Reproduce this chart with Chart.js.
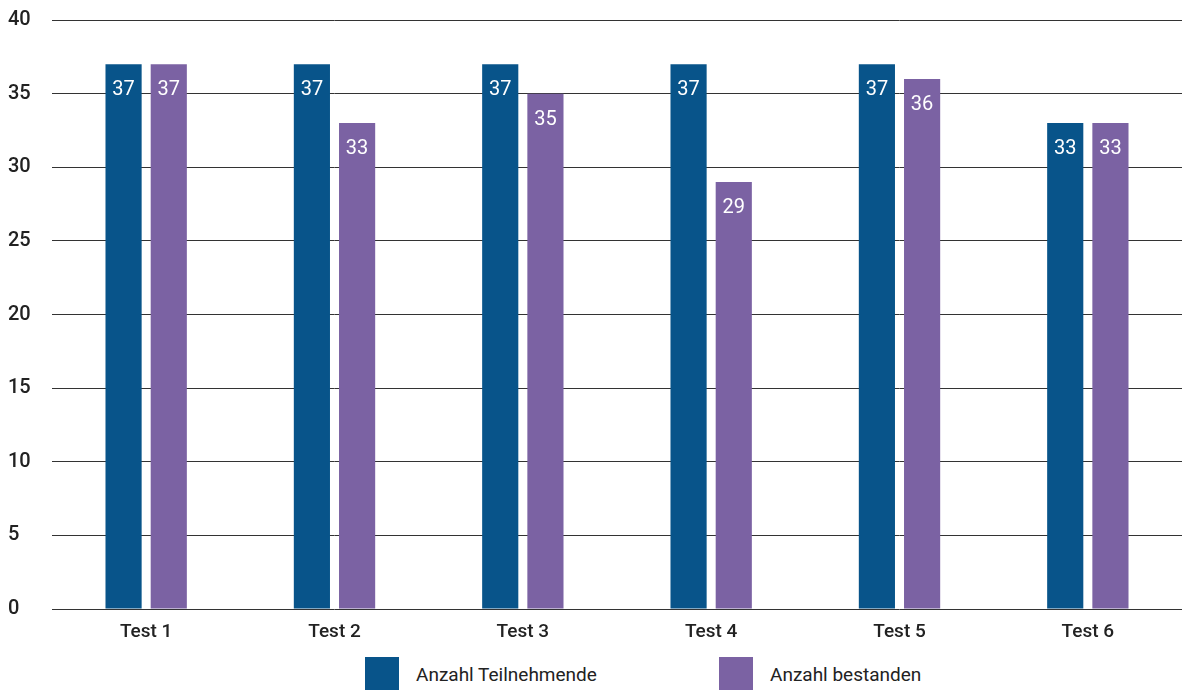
<!DOCTYPE html>
<html lang="de">
<head>
<meta charset="utf-8">
<title>Tests</title>
<script src="https://cdn.jsdelivr.net/npm/chart.js@4"></script>
<style>
    html, body { margin: 0; padding: 0; background: #fff; }
    body { width: 1182px; height: 690px; overflow: hidden; position: relative; font-family: Roboto, sans-serif; }
    #wrap { position: absolute; left: 0; top: 0; width: 1182px; height: 650px; }
    .legende { position: absolute; top: 657px; display: flex; align-items: center; font-size: 19px; color: #222; }
    .legende span.box { width: 34px; height: 34px; margin-right: 17px; display: inline-block; }
</style>
</head>
<body>
<div id="wrap"><canvas id="grafico"></canvas></div>
<div id="legende"></div>
<script>
// Daten
const kategorien = ['Test 1', 'Test 2', 'Test 3', 'Test 4', 'Test 5', 'Test 6'];
const teilnehmende = [37, 37, 37, 37, 37, 33];
const bestanden = [37, 33, 35, 29, 36, 33];
const serienNamen = ['Anzahl Teilnehmende', 'Anzahl bestanden'];
const yTicks = [0, 5, 10, 15, 20, 25, 30, 35, 40];

const farben = ['#08548a', '#7b62a3'];

// Werte in die Balken schreiben
const wertePlugin = {
    id: 'werte',
    afterDatasetsDraw(chart) {
        const ctx = chart.ctx;
        ctx.save();
        ctx.fillStyle = '#ffffff';
        ctx.font = '20px Roboto';
        ctx.textAlign = 'center';
        ctx.textBaseline = 'middle';
        chart.data.datasets.forEach((ds, i) => {
            chart.getDatasetMeta(i).data.forEach((bar, j) => {
                ctx.fillText(ds.data[j], bar.x, bar.y + 26);
            });
        });
        ctx.restore();
    }
};

const ctx = document.getElementById('grafico').getContext('2d');
const chart = new Chart(ctx, {
    type: 'bar',
    data: {
        labels: kategorien,
        datasets: [
            { label: serienNamen[0], data: teilnehmende, backgroundColor: farben[0] },
            { label: serienNamen[1], data: bestanden, backgroundColor: farben[1] }
        ]
    },
    options: {
        responsive: true,
        maintainAspectRatio: false,
        animation: false,
        categoryPercentage: 0.48,
        barPercentage: 0.8,
        layout: { padding: { top: 18, right: 0, left: 8, bottom: 0 } },
        plugins: {
            legend: { display: false },
            tooltip: { enabled: false }
        },
        scales: {
            x: {
                grid: { display: false },
                border: { display: false },
                ticks: { color: '#222', font: { family: 'Roboto', size: 19, weight: '500' }, padding: 4 },
                afterFit(axis) { axis.height = 41; }
            },
            y: {
                min: 0,
                max: 40,
                afterBuildTicks(axis) { axis.ticks = yTicks.map(v => ({ value: v })); },
                grid: { color: '#333', lineWidth: 1, drawTicks: false },
                border: { display: false },
                ticks: { color: '#222', font: { family: 'Roboto', size: 20, weight: '500' }, crossAlign: 'far', padding: 8 },
                afterFit(axis) { axis.width = 44; }
            }
        }
    },
    plugins: [wertePlugin]
});

// Legende unten
const legende = document.getElementById('legende');
const positionen = [365, 719];
serienNamen.forEach((name, i) => {
    const el = document.createElement('div');
    el.className = 'legende';
    el.style.left = positionen[i] + 'px';
    el.innerHTML = `<span class="box" style="background:${farben[i]}"></span>${name}`;
    legende.appendChild(el);
});
</script>
</body>
</html>
